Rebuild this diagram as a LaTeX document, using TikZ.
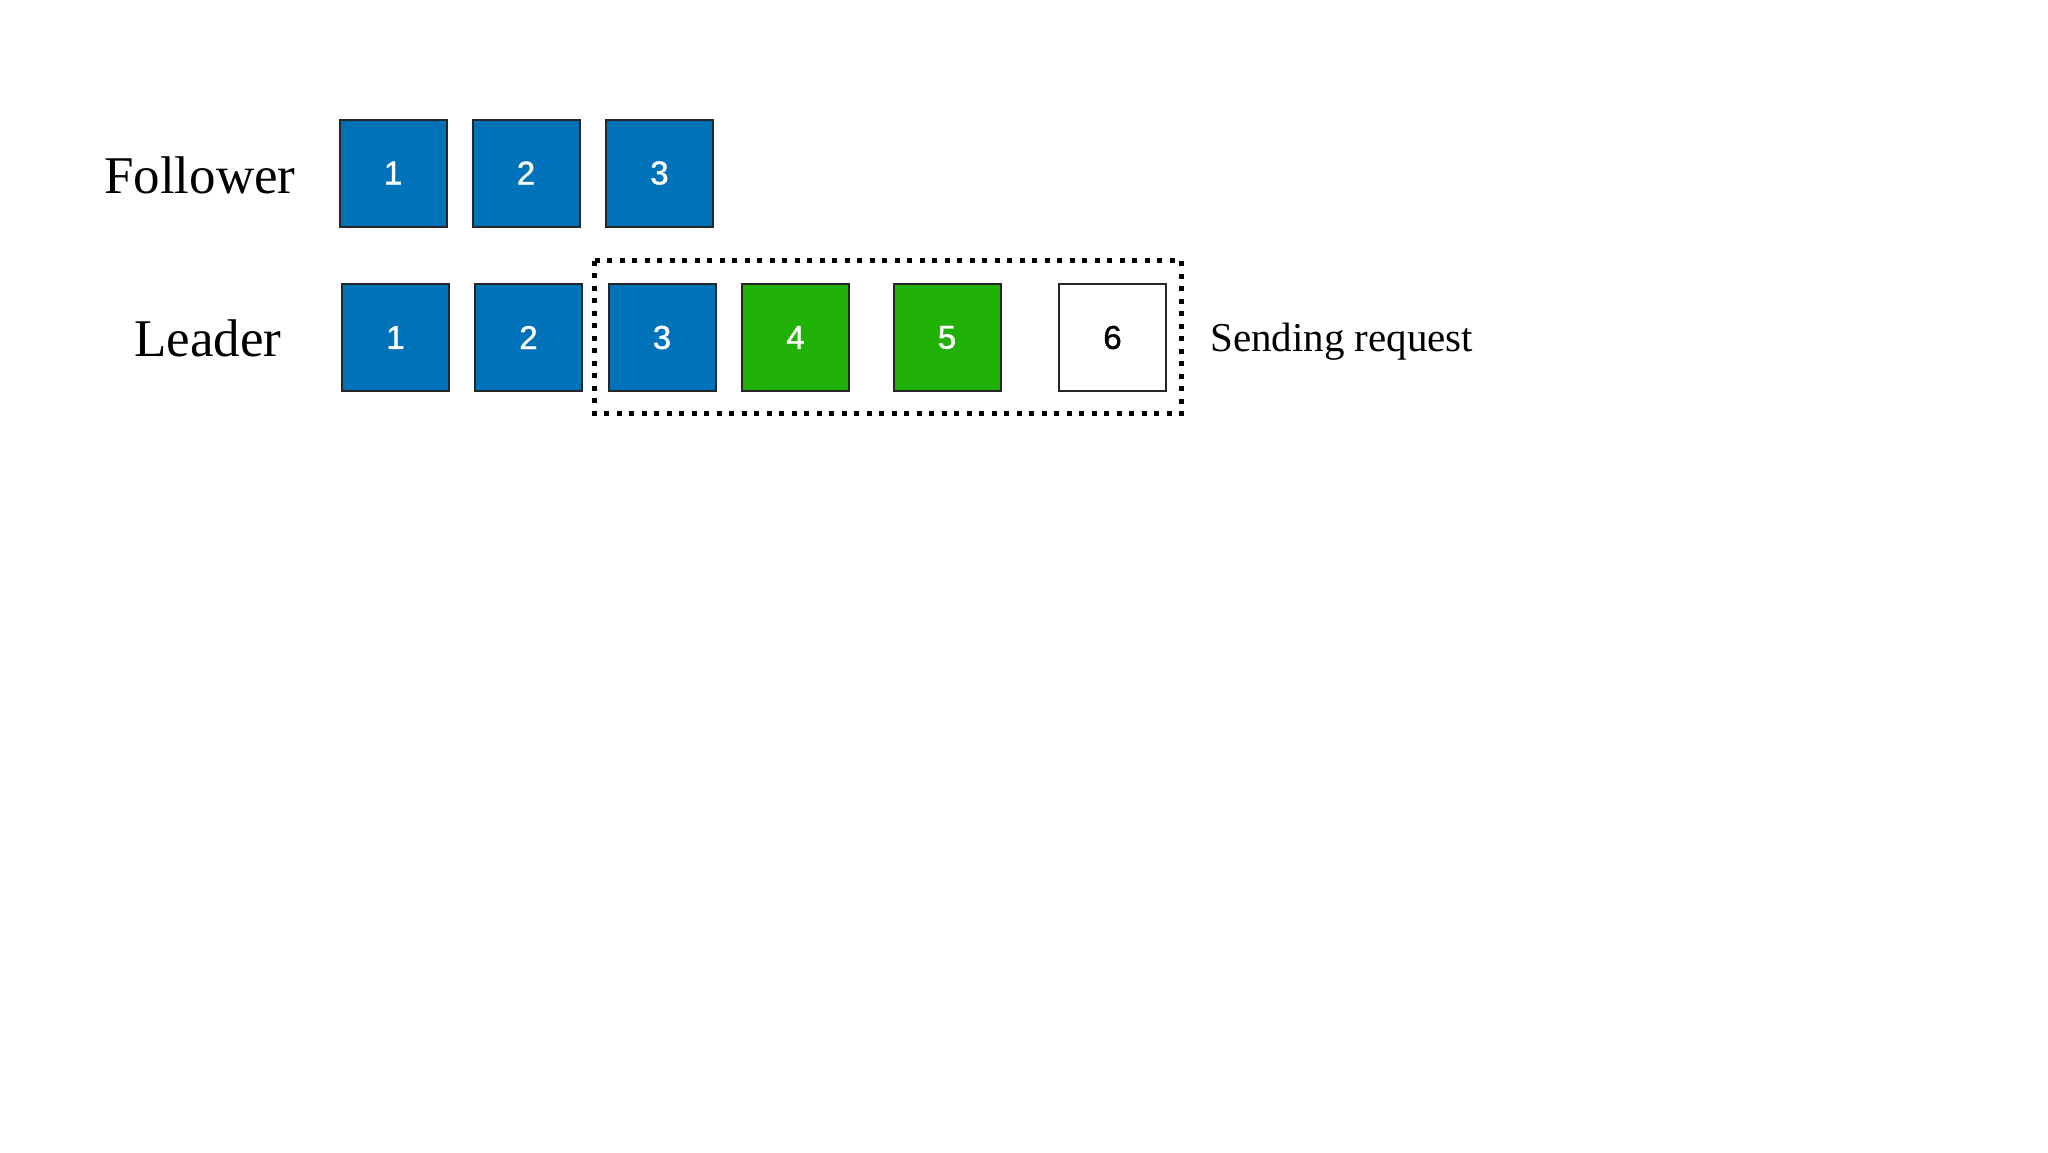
\documentclass[tikz,border=0pt]{standalone}
\usepackage{fontspec}
\setmainfont{Liberation Serif}
\newfontfamily\numfont[FakeBold=1.2]{Liberation Sans}
\definecolor{entryblue}{RGB}{0,114,185}
\definecolor{entrygreen}{RGB}{33,176,6}
\begin{document}
\begin{tikzpicture}[x=1pt,y=-1pt,
  entry/.style={draw=black!85, line width=2pt, minimum size=107pt, inner sep=0pt,
    font=\numfont\fontsize{33}{33}\selectfont},
  blueentry/.style={entry, fill=entryblue, text=white},
  greenentry/.style={entry, fill=entrygreen, text=white},
  emptyentry/.style={entry, fill=white, text=black},
  rowlabel/.style={inner sep=0pt, anchor=base west, font=\fontsize{53}{53}\selectfont},
  sidelabel/.style={inner sep=0pt, anchor=base west, font=\fontsize{41}{41}\selectfont},
  window/.style={draw=black, line width=5pt, dash pattern=on 5pt off 7.5pt}]
\useasboundingbox (0,0) rectangle (2048,1152);
\fill[white] (0,0) rectangle (2048,1152);
% follower
\node[rowlabel] (flabel) at (104,193) {Follower};
\node[blueentry] (f1) at (393,173) {1};
\node[blueentry] (f2) at (526,173) {2};
\node[blueentry] (f3) at (659.5,173) {3};
% leader
\node[rowlabel] (llabel) at (134,356.5) {Leader};
\node[blueentry] (l1) at (395.5,337.5) {1};
\node[blueentry] (l2) at (528.5,337.5) {2};
\node[blueentry] (l3) at (662,337.5) {3};
\node[greenentry] (l4) at (795.5,337.5) {4};
\node[greenentry] (l5) at (947,337.5) {5};
\node[emptyentry] (l6) at (1112.5,337.5) {6};
% window
\coordinate (wa) at (594.5,260.5);
\coordinate (wb) at (1181.5,413.5);
\draw[window] (wa) rectangle (wb);
\node[sidelabel] (send) at (1210,351) {Sending request};
\end{tikzpicture}
\end{document}
